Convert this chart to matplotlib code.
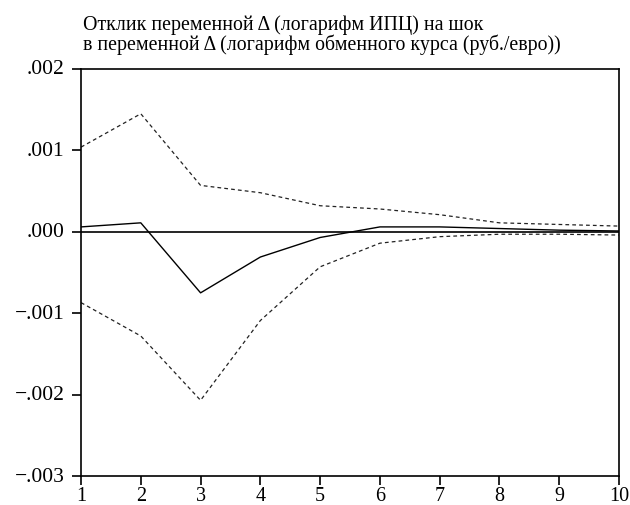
#!/usr/bin/env python3
# -*- coding: utf-8 -*-
# Impulse response of CPI to a shock in the exchange rate, with +/- 2 S.E. bands

import matplotlib
matplotlib.use('Agg')
from matplotlib import pyplot as plt
from matplotlib.ticker import FuncFormatter

# Periods and response values
periods = [1, 2, 3, 4, 5, 6, 7, 8, 9, 10]
response = [0.00006, 0.00011, -0.00075, -0.00031, -0.00007, 0.00006, 0.00006, 0.00004, 0.00002, 0.00001]
upper_band = [0.00104, 0.00145, 0.00057, 0.00048, 0.00032, 0.00028, 0.00021, 0.00011, 0.00009, 0.00007]
lower_band = [-0.00087, -0.00128, -0.00207, -0.00109, -0.00043, -0.00014, -0.00006, -0.00003, -0.00003, -0.00004]

y_ticks = [0.002, 0.001, 0.0, -0.001, -0.002, -0.003]
x_ticks = periods

title_text = ("Отклик переменной \u0394 (логарифм ИПЦ) на шок\n"
              "в переменной \u0394 (логарифм обменного курса (руб./евро))")


def FormatTick(value, pos):
   '''Format like .002 and -.001 (no leading zero)'''
   text = "{0:.3f}".format(abs(value))[1:]
   if value < -1e-9:
      return "\u2212" + text
   return text


def main():
   plt.rcParams['font.family'] = ['Liberation Serif', 'DejaVu Serif']

   fig = plt.figure(figsize=(6.3, 5.06), dpi=100)
   ax = fig.add_axes([0.1286, 0.0573, 0.854, 0.8044])

   ax.axhline(0, color='black', linewidth=1.2)
   ax.plot(periods, response, color='black', linewidth=1.0)
   ax.plot(periods, upper_band, color='#222222', linewidth=0.9, linestyle=(0, (3, 2.5)))
   ax.plot(periods, lower_band, color='#222222', linewidth=0.9, linestyle=(0, (3, 2.5)))

   ax.set_xlim(1, 10)
   ax.set_ylim(-0.003, 0.002)
   ax.set_xticks(x_ticks)
   ax.set_yticks(y_ticks)
   ax.yaxis.set_major_formatter(FuncFormatter(FormatTick))
   ax.tick_params(direction='out', length=6.5, width=1.2, labelsize=15.5)
   ax.tick_params(axis='y', pad=5.5)
   ax.tick_params(axis='x', pad=1.0, labelsize=14.5)
   for label in ax.get_yticklabels():
      label.set_verticalalignment('center')
   for spine in ax.spines.values():
      spine.set_linewidth(1.2)

   fig.text(0.131, 0.970, title_text, ha='left', va='top', fontsize=14.3, linespacing=1.0)

   fig.savefig("out.png", dpi=100)


if __name__ == "__main__":
   main()
